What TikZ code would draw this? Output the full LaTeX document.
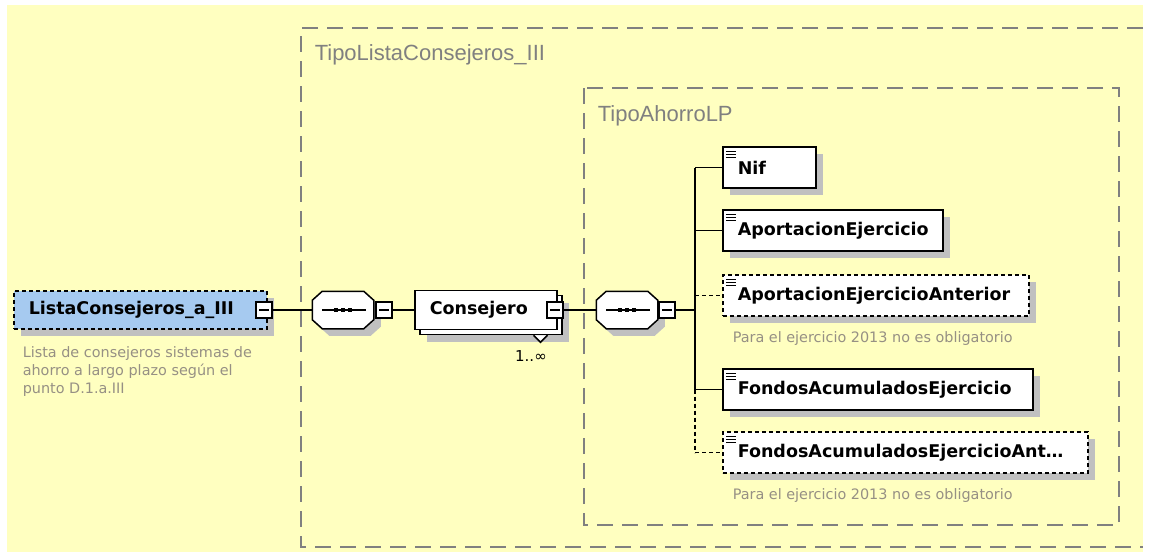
\documentclass[tikz,border=0pt]{standalone}
\usepackage{fontspec}
\setmainfont{DejaVu Sans}
\newfontfamily\grpfont{Liberation Sans}
\usetikzlibrary{shadows}

\definecolor{bgyellow}{RGB}{255,255,192}
\definecolor{elemblue}{RGB}{166,202,240}
\definecolor{grpgray}{RGB}{128,128,128}
\definecolor{shadegray}{RGB}{192,192,192}
\definecolor{notegray}{RGB}{150,144,132}

\tikzset{every picture/.style={line width=1.5pt}}
\tikzset{
  box/.style={draw, fill=white, anchor=west, minimum height=41pt,
              inner xsep=15pt, inner ysep=0pt, text width=#1, align=left,
              font=\fontsize{17.5}{20}\selectfont\bfseries},
  box/.default={60pt},
  shade/.style={general shadow={fill=shadegray, draw=none,
                shadow xshift=7pt, shadow yshift=-7pt}},
  elem/.style={box=#1, shade},
  leaf/.style={elem=#1, path picture={
      \foreach \k in {0,1,2}
        \draw[solid, line width=1.2pt]
          ([shift={(3,4.5+3*\k)}]path picture bounding box.north west) -- ++(10,0);}},
  stacked/.style={general shadow={fill=shadegray, draw=none,
                  shadow xshift=12pt, shadow yshift=-12pt},
                  general shadow={fill=white, draw=black,
                  shadow xshift=5pt, shadow yshift=-5pt}},
  optional/.style={dash pattern=on 4pt off 3pt},
  btn/.style={draw, fill=white, minimum size=16pt, inner sep=0pt, solid,
              path picture={\draw[line width=1.2pt]
                ([xshift=3pt]path picture bounding box.west)
                -- ([xshift=-3pt]path picture bounding box.east);}},
  seq/.style={minimum width=60pt, minimum height=36pt, inner sep=0pt},
  grp/.style={draw=grpgray, line width=2pt, dash pattern=on 16pt off 9pt},
  grplabel/.style={font=\grpfont\fontsize{22}{24}\selectfont, text=grpgray,
                   anchor=base west, inner sep=0pt},
  note/.style={font=\fontsize{14.4}{18}\selectfont, text=notegray, align=left,
               inner sep=0pt},
}
% octagon of a sequence compositor, corners cut 10 wide and 9 high
\newcommand\octagon[1]{([xshift=10pt]#1.north west) -- ([xshift=-10pt]#1.north east)
  -- ([yshift=-9pt]#1.north east) -- ([yshift=9pt]#1.south east)
  -- ([xshift=-10pt]#1.south east) -- ([xshift=10pt]#1.south west)
  -- ([yshift=9pt]#1.south west) -- ([yshift=-9pt]#1.north west) -- cycle}
\newcommand\seqbody[1]{%
  \fill[shadegray, transform canvas={shift={(7,7)}}] \octagon{#1};
  \draw[fill=white] \octagon{#1};
  \draw ([xshift=10pt]#1.west) -- ([xshift=-8pt]#1.east);
  \foreach \d in {-7,0,7}
    \fill ([shift={(\d-2,-2)}]#1.center) rectangle ++(4,4);
}

\begin{document}
\begin{tikzpicture}[x=1pt, y=-1pt]
  \useasboundingbox (0,0) rectangle (1153,552);
  \fill[bgyellow] (7,5) rectangle (1143,552);
  % complex types | the outer one runs on past the right edge
  \draw[grp] (1143,28) -| (301,547) -- (1143,547);
  \draw[grp] (584,88) rectangle (1119,525);
  \node[grplabel] (tLista) at (314,60) {TipoListaConsejeros\_III};
  \node[grplabel] (tAhorro) at (597,121) {TipoAhorroLP};

  % root element and its note
  \node[elem=223pt, fill=elemblue, optional, minimum height=38pt] (lista) at (13,310) {ListaConsejeros\_a\_III};
  \node[btn] (bL) at (264,310) {};
  \node[note, anchor=north west] (nLista) at (22,346)
    {Lista de consejeros sistemas de\\ahorro a largo plazo según el\\punto D.1.a.III};

  % first sequence
  \node[seq] (seqA) at (343,310) {};
  \seqbody{seqA}
  \node[btn] (bA) at (384,310) {};

  % repeated element 1..oo
  \node[box=112pt, minimum height=39pt, stacked] (cons) at (414,310) {Consejero};
  \draw[fill=white] ([shift={(-24,5)}]cons.south east) -- ([shift={(-17,12)}]cons.south east)
    -- ([shift={(-10,5)}]cons.south east);
  \node[btn] (bC) at (555,310) {};
  \node[anchor=base east, inner sep=0pt, font=\fontsize{15}{17}\selectfont] (mult)
    at ([shift={(-10,31)}]cons.south east) {1..∞};

  % second sequence
  \node[seq] (seqB) at (627,310) {};
  \seqbody{seqB}
  \node[btn] (bB) at (667,310) {};
  \coordinate (trunk) at (695,310);

  \draw (bL.east) -- (seqA.west);
  \draw (bA.east) -- (cons.west);
  \draw (bC.east) -- (seqB.west);
  \draw (bB.east) -- (trunk);

  % children of TipoAhorroLP | y / box width / name / text / line style
  \foreach \y/\w/\nm/\txt/\st [evaluate=\w as \tw using \w-30] in
      {167.5/93/nif/Nif/solid,
       230.5/220/ae/AportacionEjercicio/solid,
       295.5/306/aea/AportacionEjercicioAnterior/optional,
       389.5/310/fae/FondosAcumuladosEjercicio/solid,
       452.5/365/faea/FondosAcumuladosEjercicioAnt\dots/optional} {
    \node[leaf=\tw pt, \st] (\nm) at (722,\y) {\txt};
    \draw[\st] (\nm.west -| trunk) -- (\nm.west);
  }
  \draw (nif.west -| trunk) -- (fae.west -| trunk);
  \draw[optional] (fae.west -| trunk) -- (faea.west -| trunk);

  \node[note, anchor=base west] (nAea) at ([shift={(10,26)}]aea.south west)
    {Para el ejercicio 2013 no es obligatorio};
  \node[note, anchor=base west] (nFaea) at ([shift={(10,26)}]faea.south west)
    {Para el ejercicio 2013 no es obligatorio};
\end{tikzpicture}
\end{document}
